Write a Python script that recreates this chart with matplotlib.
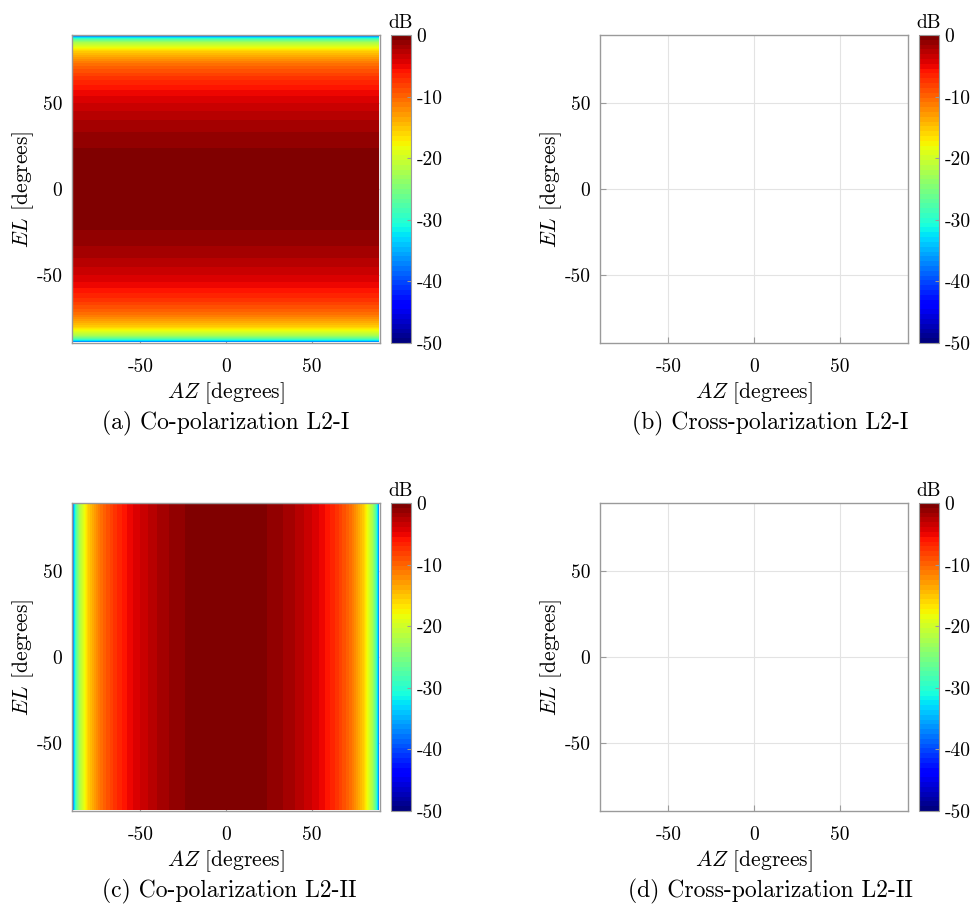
import numpy as np
import matplotlib
matplotlib.use("Agg")
import matplotlib.pyplot as plt
from matplotlib.cm import ScalarMappable
from matplotlib.colors import Normalize

plt.rcParams['font.family'] = 'cmr10'
plt.rcParams['mathtext.fontset'] = 'cm'
plt.rcParams['axes.unicode_minus'] = False
plt.rcParams['axes.formatter.use_mathtext'] = False

# pattern cut (angle in degrees -> gain in dB), symmetric about 0
cut_deg = [0, 10, 20, 25, 30, 35, 40, 45, 50, 55, 60, 65, 70, 75,
           80, 82, 84, 86, 88, 89, 89.5]
cut_db = [0.0, -0.13, -0.54, -0.85, -1.25, -1.73, -2.32, -3.0, -3.85, -4.8,
          -6.0, -7.5, -9.3, -11.7, -15.2, -17.2, -20.4, -23.1, -29.2, -35.2, -41.0]

captions = ["(a) Co-polarization L2-I", "(b) Cross-polarization L2-I",
            "(c) Co-polarization L2-II", "(d) Cross-polarization L2-II"]
cbar_ticks = [0, -10, -20, -30, -40, -50]
axis_ticks = [-50, 0, 50]

angles = np.concatenate([-np.array(cut_deg[:0:-1]), cut_deg])
gains = np.concatenate([np.array(cut_db[:0:-1]), cut_db])

cmap = plt.get_cmap('jet', 64)
norm = Normalize(vmin=-50, vmax=0)
levels = np.linspace(-50, 0, 65)

W, H = 978, 915
fig = plt.figure(figsize=(W / 100, H / 100), dpi=100)

axes_px = [(72, 35), (600, 35), (72, 503), (600, 503)]  # left, top in pixels
ax_w, ax_h = 308, 308
cap_pos = [(226, 423), (770, 423), (229, 891), (770, 891)]
edge = '#9a9a9a'

for k in range(4):
    left, top = axes_px[k]
    ax = fig.add_axes([left / W, 1 - (top + ax_h) / H, ax_w / W, ax_h / H])
    ax.set_xlim(-90, 90)
    ax.set_ylim(-90, 90)
    ax.set_xticks(axis_ticks)
    ax.set_yticks(axis_ticks)
    ax.grid(True, color='#e3e3e3', linewidth=0.8)
    ax.set_axisbelow(True)
    if k == 0:
        Z = np.tile(gains[:, None], (1, len(angles)))
        ax.contourf(angles, angles, Z, levels=levels, cmap=cmap, norm=norm, extend='min')
    elif k == 2:
        Z = np.tile(gains[None, :], (len(angles), 1))
        ax.contourf(angles, angles, Z, levels=levels, cmap=cmap, norm=norm, extend='min')
    for s in ax.spines.values():
        s.set_color(edge)
        s.set_linewidth(1.0)
    ax.tick_params(direction='in', length=4, color=edge, labelsize=14,
                   top=False, right=False)
    ax.tick_params(axis='x', pad=11)
    ax.tick_params(axis='y', pad=7)
    ax.set_xlabel(r'$AZ$ [degrees]', fontsize=15.5, labelpad=3)
    ax.set_ylabel(r'$EL$ [degrees]', fontsize=15.5, labelpad=0)

    cax = fig.add_axes([(left + 319) / W, 1 - (top + ax_h) / H, 20 / W, ax_h / H])
    cb = fig.colorbar(ScalarMappable(norm=norm, cmap=cmap), cax=cax)
    cb.set_ticks(cbar_ticks)
    cb.outline.set_edgecolor(edge)
    cax.tick_params(direction='in', length=3, color=edge, labelsize=14, pad=4)
    cax.set_title('dB', fontsize=14, pad=5)

    cx, cy = cap_pos[k]
    fig.text(cx / W, 1 - cy / H, captions[k], fontsize=17, ha='center', va='center')

fig.savefig('out.png', dpi=100)
